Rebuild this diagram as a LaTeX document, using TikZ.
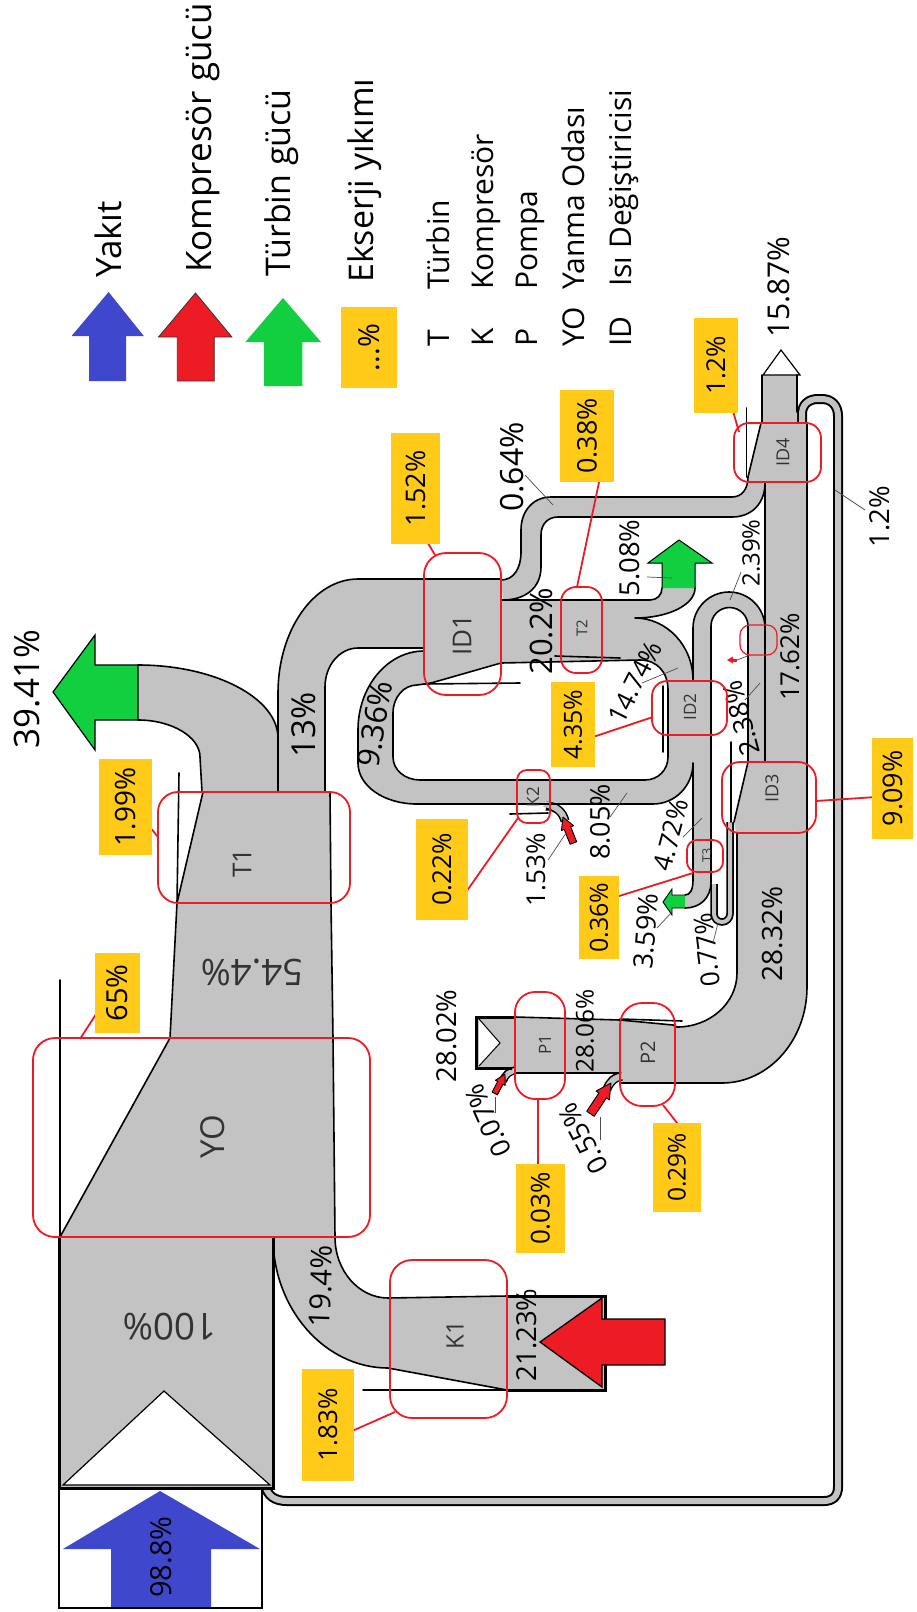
\documentclass[tikz,border=0pt]{standalone}
\usepackage{fontspec}
\setmainfont{Open Sans}
\definecolor{pg}{RGB}{195,195,195}
\definecolor{yel}{RGB}{255,202,24}
\definecolor{redc}{RGB}{237,28,36}
\definecolor{grn}{RGB}{18,207,64}
\definecolor{blu}{RGB}{63,72,204}
\newcommand\fs[1]{\fontsize{#1}{#1}\selectfont}
\newcommand\smallarrow[8]{%
  \begin{scope}[shift={(#1,#2)},rotate=#3]
  \filldraw[fill=#8,draw=black,line width=0.9pt,line join=round]
    (0,0) -- (#5/2,#7) -- (#6/2,#7) -- (#6/2,#4) -- (-#6/2,#4) -- (-#6/2,#7) -- (-#5/2,#7) -- cycle;
  \end{scope}}
\newcommand\ybox[7]{%
  \fill[yel] (#1,#2) rectangle (#3,#4);
  \node[lbl,rotate=90,font=\fs{#5}] (#6) at ({(#1+#3)/2},{(#2+#4)/2}) {#7};}
\def\looppath{(265,1484) .. controls (267,1496) and (275,1501) .. (287,1501) -- (824,1501) .. controls (833,1501) and (838,1496) .. (838,1487) -- (838,416) .. controls (838,405) and (831,399) .. (822,399) -- (818,399) .. controls (808,399) and (802,405) .. (802,414) -- (802,430)}
\def\smallu{(714,884) -- (714,914) arc[start angle=180,end angle=0,radius=8] -- (730,822)}
\begin{document}
\begin{tikzpicture}[x=1pt,y=-1pt,
  edge/.style={line width=1.6pt,black,line join=round,line cap=round},
  bedge/.style={line width=3pt,black,line join=miter},
  lbl/.style={inner sep=0pt,text=black},
  ilbl/.style={inner sep=0pt,text=black!80},
  rbox/.style={draw=redc,line width=1.8pt},
  rlead/.style={draw=redc,line width=1.8pt},
  glead/.style={draw=black!70,line width=0.7pt}]
\useasboundingbox (0,0) rectangle (916,1612);
\fill[white] (0,0) rectangle (916,1612);

% ---------------- legend ----------------
\fill[blu] (108.6,292) -- (143.8,336) -- (126,336) -- (126,381) -- (89,381) -- (89,336) -- (71.6,336) -- cycle;
\filldraw[fill=redc,draw=black!80,line width=0.8pt] (195.5,293) -- (231.9,337) -- (214.3,337) -- (214.3,381) -- (177.3,381) -- (177.3,337) -- (158.5,337) -- cycle;
\fill[grn] (283,298) -- (321,342) -- (302.3,342) -- (302.3,386) -- (264.2,386) -- (264.2,342) -- (245.4,342) -- cycle;
\fill[yel] (340.5,307) rectangle (397.4,388);
\node[lbl,rotate=90,font=\fs{29}] (lgdots) at (369,347.5) {...\%};
\begin{scope}[every node/.style={lbl,rotate=90,anchor=base west}]
\node[font=\fs{35}] (lg1) at (121,278) {Yakıt};
\node[font=\fs{35}] (lg2) at (211,273) {Kompresör gücü};
\node[font=\fs{34}] (lg3) at (290,277) {Türbin gücü};
\node[font=\fs{34}] (lg4) at (373,283) {Ekserji yıkımı};
\node[font=\fs{30}] (lgT) at (449,347) {T};
\node[font=\fs{30}] (lgTt) at (449,290) {Türbin};
\node[font=\fs{30}] (lgK) at (493,347) {K};
\node[font=\fs{30}] (lgKt) at (493,290) {Kompresör};
\node[font=\fs{30}] (lgP) at (537,347) {P};
\node[font=\fs{30}] (lgPt) at (537,290) {Pompa};
\node[font=\fs{30}] (lgY) at (584,347) {YO};
\node[font=\fs{30}] (lgYt) at (584,290) {Yanma Odası};
\node[font=\fs{30}] (lgI) at (631,347) {ID};
\node[font=\fs{30}] (lgIt) at (631,287) {Isı Değiştiricisi};
\end{scope}

% ---------------- return loop (1.2%) ----------------
\draw[line width=10pt,black] \looppath;
\draw[line width=6pt,pg] \looppath;

% ---------------- gray fills ----------------
\fill[pg] (59,1237) rectangle (273,1487);
\fill[pg] (60,1237) -- (170,1038) -- (177,903) -- (203,792) -- (330,792) -- (331,903) -- (333,1038) -- (335,1237) -- cycle;
\fill[pg] (202,792) -- (278,792) -- (278,738) .. controls (278,698) and (215,665) .. (138,665) -- (138,720) .. controls (172,720) and (200,737) .. (200,757) -- cycle;
\fill[pg] (278,792) -- (278,693) .. controls (278,630) and (314,579) .. (358,579) -- (424,579) -- (424,648) -- (358,648) .. controls (340,648) and (325,665) .. (325,687) -- (325,792) -- cycle;
\fill[pg] (424,579) -- (501,579) -- (501,663) -- (431,683) -- (424,685) -- cycle;
% 0.64
\fill[pg] (501,580) .. controls (514,580) and (521,568) .. (521,552) -- (521,530) .. controls (521,511) and (533,497) .. (551,497) -- (732,497) .. controls (742,497) and (748,489) .. (748,477) -- (765,483) .. controls (765,503) and (752,517) .. (732,517) -- (558,517) .. controls (548,517) and (541,524) .. (541,535) -- (541,567) .. controls (541,588) and (525,600) .. (503,600) -- cycle;
% 20.2 / T2 / 5.08 / 14.74
\fill[pg] (501,600) -- (650,600) .. controls (657,600) and (662,595) .. (662,588) -- (695,588) .. controls (695,605) and (668,618) .. (635,618) .. controls (667,618) and (693,646) .. (693,680) -- (668,680) -- (668,690) .. controls (668,672) and (657,660) .. (640,660) -- (501,663) -- cycle;
% 9.36 loop / 8.05
\fill[pg] (424,651) .. controls (388,651) and (358,686) .. (358,730) -- (358,763) .. controls (358,786) and (384,804) .. (417,804) -- (653,804) .. controls (675,804) and (693,786) .. (693,763) -- (693,735) -- (668,735) -- (668,757) .. controls (668,770) and (658,780) .. (645,780) -- (420,780) .. controls (405,780) and (393,770) .. (393,757) -- (393,713) .. controls (393,697) and (404,685) .. (417,685) -- (424,685) -- cycle;
% ID2
\fill[pg] (668,680) rectangle (711,735);
% U pipe + T3
\fill[pg] (693,880) -- (693,628) arc[start angle=180,end angle=360,radius=36] -- (765,762) -- (748,762) -- (748,626) arc[start angle=0,end angle=-180,radius=18.5] -- (711,882) .. controls (711,898) and (700,908) .. (685,908) -- (685,895) .. controls (690,895) and (693,890) .. (693,880) -- cycle;
% 17.62, ID3, 28.32, P
\fill[pg] (765,483) rectangle (807,762);
\fill[pg] (748,762) -- (807,762) -- (807,833) -- (736,833) -- (734,822) -- cycle;
\fill[pg] (736,833) -- (807,833) -- (807,987) .. controls (807,1040) and (769,1083) .. (722,1083) -- (620,1083) -- (620,1020) -- (673,1025) -- (677,1027) .. controls (710,1027) and (737,1003) .. (737,973) -- (737,833) -- cycle;
\fill[pg] (475,1017) -- (620,1020) -- (620,1073) -- (515,1073) -- (515,1068) -- (475,1068) -- cycle;
% ID4 + exhaust
\fill[pg] (748,477) -- (761,423) -- (762,375) -- (797,375) -- (797,423) -- (807,423) -- (807,483) -- (765,483) -- cycle;
% 19.4 + K1
\fill[pg] (273,1237) -- (335,1237) .. controls (335,1271) and (359,1298) .. (388,1298) -- (388,1368) .. controls (325,1368) and (273,1309) .. (273,1237) -- cycle;
\fill[pg] (388,1298) -- (605,1296) -- (605,1390) -- (507,1390) -- (388,1368) -- cycle;

% small inflow pipes
\draw[line width=7.5pt,black] \smallu;
\draw[line width=4pt,pg] \smallu;
\draw[line width=9pt,black] (546,806) .. controls (556,806) and (563,812) .. (565,821);
\draw[line width=6pt,pg] (544,804) .. controls (556,806) and (563,812) .. (565,821);
\draw[line width=8pt,black] (516,1070) .. controls (509,1071) and (505,1075) .. (503,1081);
\draw[line width=5pt,pg] (518,1070) .. controls (509,1071) and (505,1075) .. (503,1081);
\draw[line width=9pt,black] (622,1076) .. controls (614,1077) and (610,1082) .. (607,1089);
\draw[line width=6pt,pg] (624,1076) .. controls (614,1077) and (610,1082) .. (607,1089);

% ---------------- input box / triangles ----------------
\filldraw[fill=white,draw=black,line width=1.2pt] (63,1485) -- (164,1391) -- (270,1485) -- cycle;
\draw[bedge] (59,1237) -- (59,1488) -- (273,1488) -- (273,1237);
\fill[blu] (160,1491) -- (260,1549) -- (211,1549) -- (211,1607) -- (111,1607) -- (111,1549) -- (63,1549) -- cycle;
\draw[line width=2pt] (59,1488) rectangle (262,1608);
\filldraw[fill=white,draw=black,line width=1pt] (479,1019) -- (500,1043) -- (479,1066);
\draw[bedge] (515,1017) -- (476.5,1017) -- (476.5,1068) -- (512,1068);
\filldraw[fill=white,draw=black,line width=1.2pt] (763,375) -- (781,350) -- (800,375) -- cycle;

% ---------------- black edges ----------------
\draw[edge] (278,792) -- (278,693) .. controls (278,630) and (314,579) .. (358,579) -- (501,579);
\draw[edge] (278,738) .. controls (278,698) and (215,665) .. (138,665);
\draw[edge] (202,792) -- (200,757) .. controls (200,737) and (172,720) .. (138,720);
\draw[edge] (424,648) -- (358,648) .. controls (340,648) and (325,665) .. (325,687) -- (325,792);
\draw[edge] (330,792) -- (331,903) -- (333,1038) -- (335,1237);
\draw[edge] (179,773) -- (177,903) -- (203,792);
\draw[edge] (177,903) -- (170,1038) -- (60,1237);
\draw[edge] (60,980) -- (60,1237);
\draw[edge] (431,683) -- (501,663);
\draw[edge] (424,684) -- (520,683);
\draw[edge] (501,580) .. controls (514,580) and (521,568) .. (521,552) -- (521,530) .. controls (521,511) and (533,497) .. (551,497) -- (732,497) .. controls (742,497) and (748,489) .. (748,477);
\draw[edge] (503,600) .. controls (525,600) and (541,588) .. (541,567) -- (541,535) .. controls (541,524) and (548,517) .. (558,517) -- (732,517) .. controls (752,517) and (765,503) .. (765,483);
\draw[edge] (501,600) -- (650,600) .. controls (657,600) and (662,595) .. (662,588);
\draw[edge] (695,588) .. controls (695,605) and (668,618) .. (635,618) .. controls (667,618) and (693,646) .. (693,680);
\draw[edge] (501,663) -- (640,660) .. controls (657,660) and (668,672) .. (668,690) -- (668,757) .. controls (668,770) and (658,780) .. (645,780) -- (420,780) .. controls (405,780) and (393,770) .. (393,757) -- (393,713) .. controls (393,697) and (404,685) .. (417,685) -- (431,683);
\draw[edge] (555,656) -- (620,658);
\draw[edge] (424,651) .. controls (388,651) and (358,686) .. (358,730) -- (358,763) .. controls (358,786) and (384,804) .. (417,804) -- (653,804) .. controls (675,804) and (693,786) .. (693,763) -- (693,880) .. controls (693,890) and (690,895) .. (685,895);
\draw[edge] (693,680) -- (693,628) arc[start angle=180,end angle=360,radius=36] -- (765,762);
\draw[edge] (748,762) -- (748,626) arc[start angle=0,end angle=-180,radius=18.5] -- (711,882) .. controls (711,898) and (700,908) .. (685,908);
\draw[edge] (765,483) -- (765,762);
\draw[edge] (663,686) -- (663,752);
\draw[edge] (807,423) -- (807,987) .. controls (807,1040) and (769,1083) .. (722,1083) -- (620,1083);
\draw[edge] (737,833) -- (737,973) .. controls (737,1003) and (710,1027) .. (677,1027) -- (673,1025);
\draw[edge] (734,822) -- (748,762);
\draw[edge] (731,742) -- (731,822);
\draw[edge] (748,477) -- (761,423);
\draw[edge] (746.5,408) -- (746.5,477);
\draw[edge] (762,423) -- (762,375);
\draw[edge] (797,375) -- (797,412);
\draw[edge] (515,1017) -- (620,1020) -- (673,1025);
\draw[edge] (620,1019) -- (682,1021);
\draw[edge] (515,1073) -- (620,1073);
\draw[edge] (510,814) -- (548,813);
\draw[edge] (335,1237) .. controls (335,1271) and (359,1298) .. (388,1298) -- (507,1296);
\draw[edge] (273,1237) .. controls (273,1309) and (325,1368) .. (388,1368) -- (507,1390);
\draw[edge] (363,1390) -- (507,1390);
\draw[bedge] (507,1296) -- (605,1296) -- (605,1390) -- (507,1390);

% ---------------- arrows ----------------
\filldraw[fill=grn,draw=black,line width=1.2pt] (138,665) -- (95,665) -- (95,635) -- (53,692) -- (95,750) -- (95,720) -- (138,720) -- cycle;
\filldraw[fill=grn,draw=black,line width=1pt] (662,588) -- (662,563) -- (648,563) -- (679,540) -- (712,563) -- (695,563) -- (695,588);
\filldraw[fill=grn,draw=black,line width=0.9pt] (685,895) -- (672,895) -- (672,889) -- (663,902) -- (672,915) -- (672,908) -- (685,908);
\filldraw[fill=redc,draw=black,line width=1.3pt] (540,1342) -- (602,1298) -- (602,1319) -- (665,1319) -- (665,1365) -- (602,1365) -- (602,1387) -- cycle;
\smallarrow{563}{817}{21.8}{28}{13}{7}{12}{redc}
\smallarrow{505}{1074}{-27.8}{22}{11}{6}{10}{redc}
\smallarrow{611}{1083}{-33.7}{37}{16}{9}{15}{redc}
\fill[redc] (727,660) -- (733,656.5) -- (733,663.5) -- cycle;
\fill[redc] (733,658.5) rectangle (737,661.5);

% ---------------- flow labels ----------------
\node[lbl,rotate=90,font=\fs{30}] (f1587) at (779,287) {15.87\%};
\node[lbl,rotate=90,font=\fs{35}] (f3941) at (27,689) {39.41\%};
\node[lbl,rotate=90,font=\fs{33}] (f13) at (304,725) {13\%};
\node[lbl,rotate=80,font=\fs{31}] (f936) at (375,724) {9.36\%};
\node[lbl,rotate=90,font=\fs{32}] (f064) at (512,467) {0.64\%};
\node[lbl,rotate=90,font=\fs{31}] (f202) at (541,631) {20.2\%};
\node[lbl,rotate=90,font=\fs{27.5}] (f508) at (630,558) {5.08\%};
\node[lbl,rotate=63,font=\fs{26}] (f1474) at (635,682) {14.74\%};
\node[lbl,rotate=90,font=\fs{24}] (f239) at (751,553) {2.39\%};
\node[lbl,rotate=90,font=\fs{26}] (f1762) at (790,657) {17.62\%};
\node[lbl,rotate=105,font=\fs{27}] (f238) at (741,718) {2.38\%};
\node[lbl,rotate=90,font=\fs{26}] (f153) at (536,870) {1.53\%};
\node[lbl,rotate=90,font=\fs{27}] (f805) at (600,822) {8.05\%};
\node[lbl,rotate=75,font=\fs{26}] (f472) at (671,835) {4.72\%};
\node[lbl,rotate=85,font=\fs{27}] (f359) at (646,931) {3.59\%};
\node[lbl,rotate=97,font=\fs{26}] (f077) at (707,950) {0.77\%};
\node[lbl,rotate=90,font=\fs{28}] (f2832) at (773,934) {28.32\%};
\node[lbl,rotate=90,font=\fs{27.5}] (f2802) at (447,1036) {28.02\%};
\node[lbl,rotate=90,font=\fs{24.5}] (f2806) at (585,1031) {28.06\%};
\node[lbl,rotate=114,font=\fs{27}] (f007) at (488,1121) {0.07\%};
\node[lbl,rotate=118,font=\fs{27}] (f055) at (583,1139) {0.55\%};
\node[lbl,rotate=88,font=\fs{29}] (f194) at (321,1286) {19.4\%};
\node[lbl,rotate=90,font=\fs{27.5}] (f2123) at (527,1335) {21.23\%};
\node[lbl,rotate=90,font=\fs{27.5}] (f12) at (880,517) {1.2\%};
\node[lbl,rotate=90,font=\fs{29}] (f988) at (161,1557) {98.8\%};
\node[ilbl,rotate=180,font=\fs{37}] (f100) at (170,1327) {100\%};
\node[ilbl,rotate=180,font=\fs{36.5}] (f544) at (252,972) {54.4\%};

% component labels
\node[ilbl,rotate=90,font=\fs{26}] (cT1) at (242,863) {T1};
\node[ilbl,rotate=90,font=\fs{33}] (cYO) at (213,1137) {YO};
\node[ilbl,rotate=90,font=\fs{24}] (cK1) at (455,1335) {K1};
\node[ilbl,rotate=90,font=\fs{26}] (cID1) at (462,635) {ID1};
\node[ilbl,rotate=90,font=\fs{15}] (cT2) at (582,628) {T2};
\node[ilbl,rotate=90,font=\fs{17}] (cID2) at (690,707) {ID2};
\node[ilbl,rotate=90,font=\fs{18}] (cID3) at (772,788) {ID3};
\node[ilbl,rotate=90,font=\fs{18}] (cID4) at (783,452) {ID4};
\node[ilbl,rotate=90,font=\fs{17}] (cK2) at (533,797) {K2};
\node[ilbl,rotate=90,font=\fs{12.5}] (cT3) at (707,855) {T3};
\node[ilbl,rotate=90,font=\fs{17}] (cP1) at (545,1045) {P1};
\node[ilbl,rotate=90,font=\fs{20}] (cP2) at (648,1053) {P2};

% ---------------- gray leaders ----------------
\draw[glead] (525,475) -- (553,505);
\draw[glead] (647,577) -- (672,578);
\draw[glead] (642,683) -- (678,668);
\draw[glead] (741,572) -- (730,600);
\draw[glead] (745,700) -- (760,683);
\draw[glead] (548,860) -- (566,833);
\draw[glead] (610,817) -- (627,793);
\draw[glead] (683,837) -- (702,818);
\draw[glead] (657,928) -- (672,912);
\draw[glead] (713,943) -- (718,923);
\draw[glead] (495,1113) -- (495,1097);
\draw[glead] (600,1140) -- (600,1117);
\draw[glead] (835,490) -- (865,510);
\draw[glead] (737,660) -- (750,655);

% ---------------- red boxes ----------------
\draw[rbox,rounded corners=20pt] (158,792) rectangle (350,903);
\draw[rbox,rounded corners=22pt] (33,1038) rectangle (370,1237);
\draw[rbox,rounded corners=22pt] (390,1260) rectangle (507,1418);
\draw[rbox,rounded corners=22pt] (424,553) rectangle (501,695);
\draw[rbox,rounded corners=15pt] (561,587) rectangle (602,673);
\draw[rbox,rounded corners=15pt] (652,681) rectangle (727,735);
\draw[rbox,rounded corners=18pt] (722,762) rectangle (816,833);
\draw[rbox,rounded corners=15pt] (734,423) rectangle (821,482);
\draw[rbox,rounded corners=10pt] (517,770) rectangle (550,823);
\draw[rbox,rounded corners=10pt] (687,840) rectangle (723,872);
\draw[rbox,rounded corners=20pt] (515,992) rectangle (565,1099);
\draw[rbox,rounded corners=22pt] (620,1003) rectangle (675,1106);
\draw[rbox,line width=1.2pt,rounded corners=10pt] (740,625) rectangle (777,655);

% ---------------- red leaders ----------------
\draw[rlead] (140,815) -- (158,837);
\draw[rlead] (100,1008) -- (80,1039);
\draw[rlead] (343,1435) -- (395,1412);
\draw[rlead] (422,533) -- (435,555);
\draw[rlead] (602,468) -- (577,587);
\draw[rlead] (729,397) -- (739,432);
\draw[rlead] (590,738) -- (653,717);
\draw[rlead] (464,895) -- (518,818);
\draw[rlead] (616,897) -- (693,873);
\draw[rlead] (816,801) -- (876,797);
\draw[rlead] (538,1100) -- (538,1177);
\draw[rlead] (663,1105) -- (681,1128);

% ---------------- yellow boxes ----------------
\ybox{99}{759}{152}{855}{28}{y199}{1.99\%}
\ybox{95}{953}{140}{1033}{29}{y65}{65\%}
\ybox{302}{1369}{354}{1481}{26}{y183}{1.83\%}
\ybox{391}{433}{440}{544}{27}{y152}{1.52\%}
\ybox{560}{390}{614}{482}{27}{y038}{0.38\%}
\ybox{694}{318}{738}{413}{26}{y12}{1.2\%}
\ybox{551}{682}{595}{767}{25}{y435}{4.35\%}
\ybox{416}{819}{468}{920}{26}{y022}{0.22\%}
\ybox{579}{876}{619}{959}{25}{y036}{0.36\%}
\ybox{872}{738}{913}{839}{27}{y909}{9.09\%}
\ybox{516}{1164}{565}{1253}{26}{y003}{0.03\%}
\ybox{653}{1123}{701}{1212}{24.5}{y029}{0.29\%}
\end{tikzpicture}
\end{document}
